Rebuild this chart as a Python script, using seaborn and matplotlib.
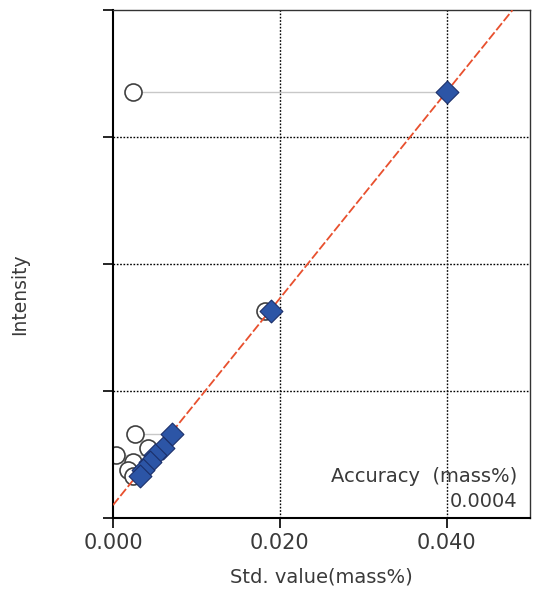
import numpy as np
import pandas as pd
import matplotlib
matplotlib.use("Agg")
import matplotlib.pyplot as plt
import seaborn as sns

sns.set_style('ticks')
plt.rcParams['font.family'] = ['DejaVu Sans']

# calibration data
std_value = [0.0400, 0.01892, 0.00707, 0.00599, 0.00503, 0.00443, 0.00359, 0.00323]
intensity = [3.357, 1.631, 0.659, 0.549, 0.494, 0.439, 0.376, 0.329]
# uncorrected positions (open circles), same intensity
raw_value = [0.0024, 0.0182, 0.0026, 0.0042, 0.0004, 0.0024, 0.0018, 0.0024]

# calibration line
slope = 81.4
intercept = 0.102
accuracy = "0.0004"

x_ticks = [0.000, 0.020, 0.040]
x_tick_labels = ["0.000", "0.020", "0.040"]
y_ticks = [0, 1, 2, 3, 4]

df = pd.DataFrame({'std': std_value, 'raw': raw_value, 'intensity': intensity})

fig = plt.figure(figsize=(5.34, 6.01), dpi=100)
ax = fig.add_axes([0.2116, 0.138, 0.781, 0.845])

# connectors between raw and corrected point
for _, r in df.iterrows():
    ax.plot([r['raw'], r['std']], [r['intensity'], r['intensity']],
            color='#c8c8c8', lw=1, zorder=1)

sns.scatterplot(data=df, x='raw', y='intensity', marker='o', s=150,
                facecolor='white', edgecolor='#404040', linewidth=1.2,
                zorder=2, ax=ax)

ax.axline((0, intercept), slope=slope, color='#e8502e', lw=1.3,
          dashes=(5, 1.5), zorder=3)

sns.scatterplot(data=df, x='std', y='intensity', marker='D', s=135,
                color='#2c55a6', edgecolor='#1b2f6a', linewidth=0.8,
                zorder=4, ax=ax)

ax.set_xlim(0, 0.05)
ax.set_ylim(0, 4)
ax.set_xticks(x_ticks)
ax.set_xticklabels(x_tick_labels)
ax.set_yticks(y_ticks)
ax.set_yticklabels([])
ax.tick_params(axis='both', direction='out', length=7, width=1.2,
               colors='black', labelcolor='#3a3a3a', labelsize=15)
ax.tick_params(axis='x', pad=4)

for v in [0.02, 0.04]:
    ax.axvline(v, color='black', lw=1, ls=(0, (1.2, 1.2)), zorder=0)
for v in [1, 2, 3]:
    ax.axhline(v, color='black', lw=1, ls=(0, (1.2, 1.2)), zorder=0)

for side in ['left', 'bottom']:
    ax.spines[side].set_linewidth(1.5)
    ax.spines[side].set_color('black')
for side in ['top', 'right']:
    ax.spines[side].set_linewidth(1)
    ax.spines[side].set_color('#333333')

ax.set_xlabel('Std. value(mass%)', fontsize=14, color='#3a3a3a', labelpad=10)
ax.set_ylabel('Intensity', fontsize=13.5, color='#3a3a3a')
ax.yaxis.set_label_coords(-0.2, 0.44)

ax.text(0.969, 0.081, 'Accuracy  (mass%)', transform=ax.transAxes,
        ha='right', va='center', fontsize=14, color='#3a3a3a')
ax.text(0.969, 0.033, accuracy, transform=ax.transAxes,
        ha='right', va='center', fontsize=14, color='#3a3a3a')

fig.savefig('out.png', dpi=100)
